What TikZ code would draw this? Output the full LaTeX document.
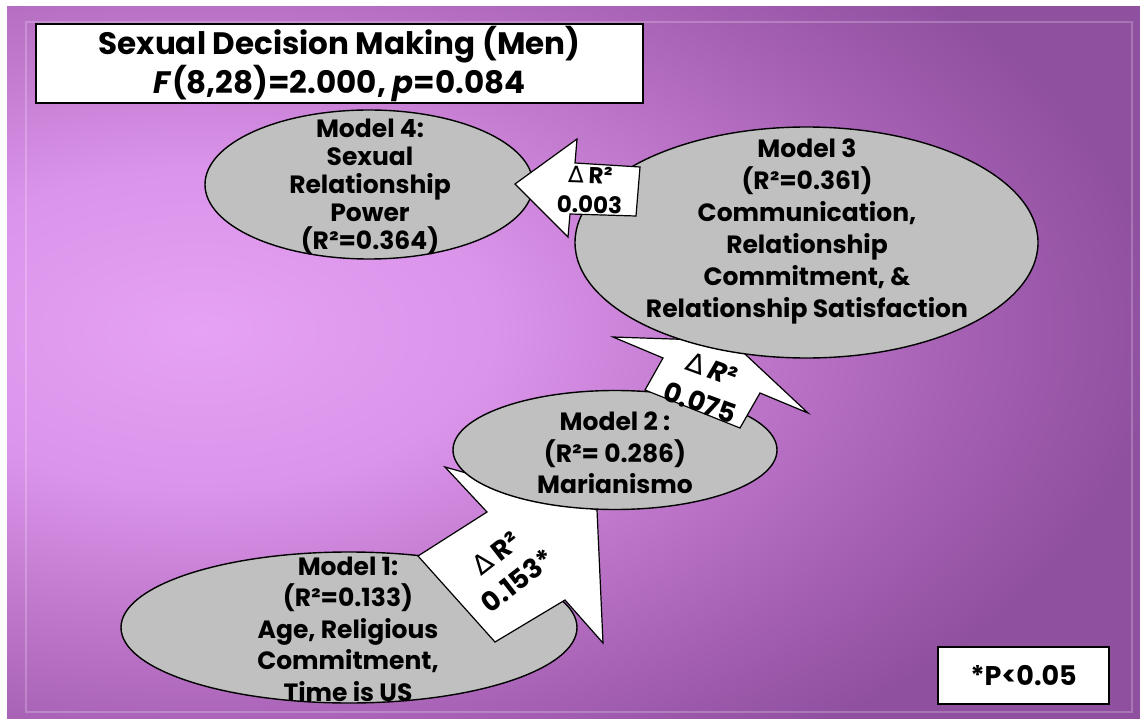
\documentclass[tikz,border=0pt]{standalone}
\usepackage{fontspec}
\setmainfont{Poppins}
\newfontfamily\dejavu{DejaVu Sans}
\usetikzlibrary{shapes.geometric}
\definecolor{bgA}{HTML}{E6A2F4}
\definecolor{bgB}{HTML}{DA94EA}
\definecolor{bgC}{HTML}{C27ACE}
\definecolor{bgD}{HTML}{A862B6}
\definecolor{bgE}{HTML}{9050A0}
\definecolor{ellgray}{HTML}{C0C0C0}
\pgfdeclareradialshading{bgshade}{\pgfpoint{0bp}{0bp}}{color(0bp)=(bgA); color(6.4bp)=(bgB); color(11.2bp)=(bgC); color(16bp)=(bgD); color(20.8bp)=(bgE); color(50bp)=(bgE)}
\begin{document}
\begin{tikzpicture}[x=1pt,y=-1pt,
  ell/.style={ellipse, draw=black, line width=1.4pt, fill=ellgray, inner sep=0pt},
  mtext/.style={align=center, inner sep=0pt, text=black},
  arrowbox/.style={draw=black, line width=1.2pt, fill=white, line join=miter},
  atext/.style={align=center, inner sep=0pt, text=black},
  whitebox/.style={draw=black, line width=1.5pt, fill=white, inner sep=0pt, align=center}]
\useasboundingbox (0,0) rectangle (1140,719);
\fill[white] (0,0) rectangle (1140,719);
\begin{scope}
\clip (7,7) rectangle (1140,719);
\shade[shading=bgshade] (-950,-295) rectangle (1350,955);
\end{scope}
\draw[white, opacity=0.22, line width=2pt] (26,22) rectangle (1132,712);
% title
\node[whitebox, minimum width=607, minimum height=79, font=\fontsize{31}{39}\selectfont\bfseries] (title) at (339.5,63.5)
  {Sexual Decision Making (Men)\\\textit{F}(8,28)=2.000, \textit{p}=0.084};
% ellipses and block arrows
\node[ell, minimum width=456, minimum height=151] (e1) at (349,627.5) {};
\draw[arrowbox] (418,556) -- (487,512) -- (445,467) -- (597,510) -- (603,643) -- (565,600) -- (495,642) -- cycle;
\node[ell, minimum width=324, minimum height=119] (e2) at (615,450) {};
\draw[arrowbox] (645,390) -- (663,358) -- (613,337) -- (731,341) -- (808,413) -- (760,393) -- (740,428) -- cycle;
\node[ell, minimum width=463, minimum height=231] (e3) at (806.5,242.5) {};
\node[ell, minimum width=328, minimum height=149] (e4) at (369,184.5) {};
\draw[arrowbox] (515,184) -- (577,139) -- (575,163) -- (640,167) -- (636,216) -- (570,214) -- (568,237) -- cycle;
% model texts
\node[mtext, font=\fontsize{25}{31.5}\selectfont\bfseries] (t1) at (348,629)
  {Model 1:\\(R²=0.133)\\Age, Religious\\Commitment,\\Time is US};
\node[mtext, font=\fontsize{25}{31.5}\selectfont\bfseries] (t2) at (615,453)
  {Model 2 :\\(R²= 0.286)\\Marianismo};
\node[mtext, font=\fontsize{25}{32}\selectfont\bfseries] (t3) at (807,231)
  {Model 3\\(R²=0.361)\\Communication,\\Relationship\\Commitment, \&\\Relationship Satisfaction};
\node[mtext, font=\fontsize{25}{28}\selectfont\bfseries] (t4) at (370,187)
  {Model 4:\\Sexual\\Relationship\\Power\\(R²=0.364)};
% arrow labels
\node[atext, rotate=38, font=\fontsize{27}{35}\selectfont\bfseries] (a1t) at (507,567)
  {{\dejavu\mdseries ∆} R²\\0.153*};
\node[atext, rotate=-20, font=\fontsize{27}{36}\selectfont\bfseries] (a2t) at (706,386)
  {{\dejavu\mdseries ∆} \textit{R}²\\0.075};
\node[atext, rotate=-2, font=\fontsize{23}{30}\selectfont\bfseries] (a3t) at (590,190)
  {{\dejavu\mdseries ∆} R²\\0.003};
% note box
\node[whitebox, minimum width=171, minimum height=57, font=\fontsize{27}{30}\selectfont\bfseries] (pbox) at (1023.5,675.5) {*P<0.05};
\end{tikzpicture}
\end{document}
